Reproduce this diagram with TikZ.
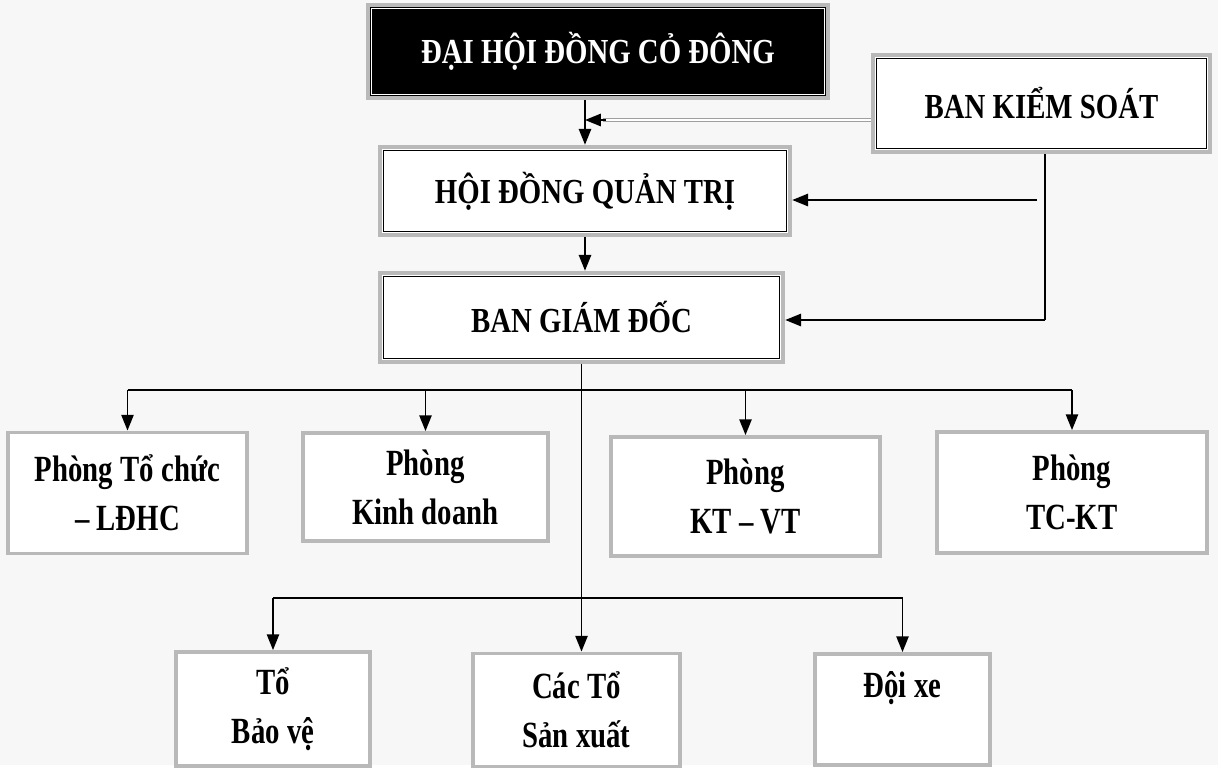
\documentclass[tikz,border=0pt]{standalone}
\usepackage{fontspec}
\setmainfont{Liberation Serif}
\newfontfamily\headfont[FakeStretch=0.82]{Liberation Serif}
\newfontfamily\unitfont[FakeStretch=0.78]{Liberation Serif}
\usetikzlibrary{arrows.meta, positioning}

\begin{document}
\begin{tikzpicture}[x=0.02cm, y=-0.02cm,
  frame/.style={rectangle, draw=gray!55, line width=2.6pt, fill=white,
                inner sep=2pt, align=center},
  head/.style={frame, font=\headfont\bfseries\fontsize{20}{24}\selectfont},
  unit/.style={frame, line width=2.2pt, font=\unitfont\bfseries\fontsize{21}{28}\selectfont},
  innerline/.style={draw=black, line width=0.7pt},
  link/.style={line width=1pt},
  arrow/.style={link, -{Triangle[length=9pt, width=7pt]}},
  dbl/.style={draw=gray!75, double=white, double distance=1.2pt, line width=0.6pt}
]
\fill[black!3] (0,0) rectangle (1218,765);

% top level
\node[head, fill=black, text=white, minimum width=9.2cm, minimum height=1.86cm]
  (dhd) at (598,51.5) {ĐẠI HỘI ĐỒNG CỎ ĐÔNG};
\node[head, minimum width=6.74cm, minimum height=1.94cm]
  (bks) at (1041.5,103.5) {BAN KIỂM SOÁT};
\node[head, minimum width=8.2cm, minimum height=1.76cm]
  (hdqt) at (585,191) {HỘI ĐỒNG QUẢN TRỊ};
\node[head, minimum width=8.06cm, minimum height=1.78cm]
  (bgd) at (581.5,317.5) {BAN GIÁM ĐỐC};

% departments
\node[unit, minimum width=4.78cm, minimum height=2.42cm]
  (ptc) at (127.5,493) {Phòng Tổ chức\\– LĐHC};
\node[unit, minimum width=4.9cm, minimum height=2.16cm]
  (pkd) at (425.5,487) {Phòng\\Kinh doanh};
\node[unit, minimum width=5.38cm, minimum height=2.38cm]
  (pkt) at (745.5,496.5) {Phòng\\KT – VT};
\node[unit, minimum width=5.4cm, minimum height=2.42cm]
  (ptckt) at (1072,492.5) {Phòng\\TC-KT};

% teams
\node[unit, minimum width=3.88cm, minimum height=2.28cm]
  (tbv) at (273,709) {Tổ\\Bảo vệ};
\node[unit, minimum width=4.14cm, minimum height=2.26cm]
  (tsx) at (576.5,710) {Các Tổ\\Sản xuất};
\node[unit, minimum width=3.5cm, minimum height=2.22cm]
  (dx) at (902.5,709.5) {Đội xe\\\mbox{}};

% inner frame lines
\draw[innerline, draw=white] ([shift={(6,6)}]dhd.north west) rectangle ([shift={(-6,-6)}]dhd.south east);
\foreach \n in {bks,hdqt,bgd}
  \draw[innerline] ([shift={(6,6)}]\n.north west) rectangle ([shift={(-6,-6)}]\n.south east);

% connectors
\coordinate (c1) at (585,120);
\coordinate (c2) at (1045,320);
\coordinate (c3) at (1037,200);
\coordinate (b1) at (582,390);
\coordinate (b2) at (582,598);

\draw[arrow] (c1 |- dhd.south) -- (c1 |- hdqt.north);
\draw[dbl] (bks.west |- c1) -- ([xshift=10pt]c1);
\draw[arrow] ([xshift=12pt]c1) -- (c1);
\draw[link] (c2 |- bks.south) -- (c2);
\draw[arrow] (c2) -- (c2 -| bgd.east);
\draw[arrow] (c3) -- (c3 -| hdqt.east);
\draw[arrow] (hdqt.south) -- (hdqt.south |- bgd.north);

\draw[arrow] (bgd.south) -- (bgd.south |- tsx.north);
\draw[link] (ptc.north |- b1) -- (ptckt.north |- b1);
\foreach \n in {ptc,pkd,pkt,ptckt}
  \draw[arrow] (\n.north |- b1) -- (\n.north);
\draw[link] (tbv.north |- b2) -- (dx.north |- b2);
\foreach \n in {tbv,dx}
  \draw[arrow] (\n.north |- b2) -- (\n.north);
\end{tikzpicture}
\end{document}
